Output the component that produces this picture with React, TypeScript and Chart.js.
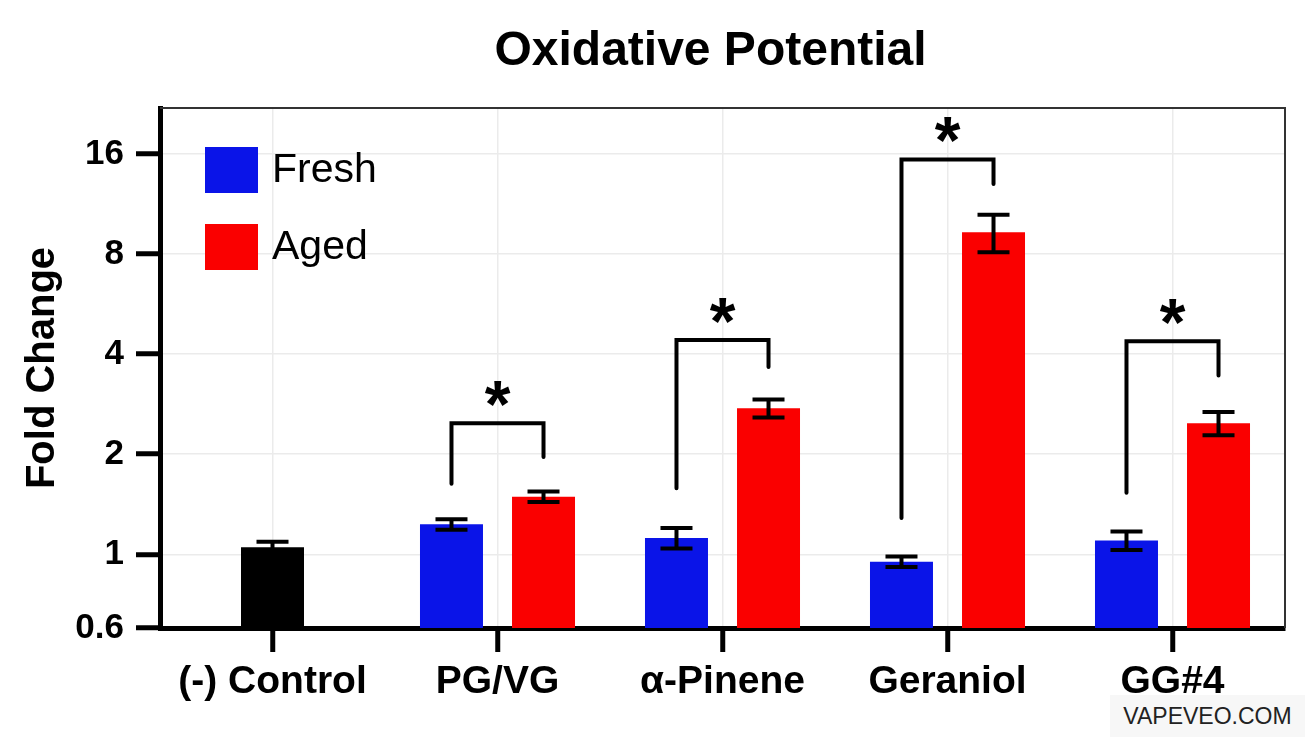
import React, { useEffect, useRef } from "react";
import { Chart, registerables } from "chart.js";

Chart.register(...registerables);

const FONT = '"Liberation Sans", Arial, Helvetica, sans-serif';

// ---- data ----
const chartTitle = "Oxidative Potential";
const categories = ["(-) Control", "PG/VG", "α-Pinene", "Geraniol", "GG#4"];
const controlValues = [1.05, null, null, null, null];
const controlErrors = [0.04, 0, 0, 0, 0];
const freshValues = [null, 1.23, 1.12, 0.95, 1.1];
const freshErrors = [0, 0.045, 0.08, 0.035, 0.07];
const agedValues = [null, 1.49, 2.75, 9.3, 2.48];
const agedErrors = [0, 0.055, 0.17, 1.2, 0.2];
const yTicks = [0.6, 1, 2, 4, 8, 16];
// significance brackets (in data units)
const bracketTop = [null, 2.48, 4.41, 15.4, 4.37];
const bracketLeftFoot = [null, 1.63, 1.58, 1.285, 1.53];
const bracketRightFoot = [null, 1.96, 3.66, 13.0, 3.45];
const bracketLabels = [null, "*", "*", "*", "*"];

const errorSets = [controlErrors, freshErrors, agedErrors];

const errorBarPlugin = {
  id: "errorBars",
  afterDatasetsDraw(chart: any) {
    const { ctx } = chart;
    const y = chart.scales.y;
    ctx.save();
    ctx.strokeStyle = "#000";
    ctx.lineWidth = 4;
    chart.data.datasets.forEach((ds: any, di: number) => {
      const meta = chart.getDatasetMeta(di);
      meta.data.forEach((bar: any, j: number) => {
        const v = ds.data[j];
        const e = errorSets[di][j];
        if (v == null || !e) return;
        const yt = y.getPixelForValue(v + e);
        const yb = y.getPixelForValue(v - e);
        const x = bar.x;
        const hw = 16;
        ctx.beginPath();
        ctx.moveTo(x, yt);
        ctx.lineTo(x, yb);
        ctx.moveTo(x - hw, yt);
        ctx.lineTo(x + hw, yt);
        ctx.moveTo(x - hw, yb);
        ctx.lineTo(x + hw, yb);
        ctx.stroke();
      });
    });
    ctx.restore();
  },
};

const bracketPlugin = {
  id: "brackets",
  afterDatasetsDraw(chart: any) {
    const { ctx } = chart;
    const y = chart.scales.y;
    const fresh = chart.getDatasetMeta(1);
    const aged = chart.getDatasetMeta(2);
    ctx.save();
    ctx.strokeStyle = "#000";
    ctx.lineWidth = 4;
    ctx.lineJoin = "miter";
    ctx.lineCap = "round";
    categories.forEach((_, c) => {
      const top = bracketTop[c];
      if (top == null) return;
      const xl = fresh.data[c].x;
      const xr = aged.data[c].x;
      const yt = y.getPixelForValue(top);
      const yl = y.getPixelForValue(bracketLeftFoot[c] as number);
      const yr = y.getPixelForValue(bracketRightFoot[c] as number);
      ctx.beginPath();
      ctx.moveTo(xl, yl);
      ctx.lineTo(xl, yt);
      ctx.lineTo(xr, yt);
      ctx.lineTo(xr, yr);
      ctx.stroke();
      const label = bracketLabels[c] as string;
      ctx.fillStyle = "#000";
      ctx.font = `bold 66px ${FONT}`;
      ctx.textAlign = "center";
      ctx.textBaseline = "alphabetic";
      const m = ctx.measureText(label);
      const cy = yt - 30;
      const base = cy + (m.actualBoundingBoxAscent - m.actualBoundingBoxDescent) / 2;
      ctx.fillText(label, (xl + xr) / 2, base);
    });
    ctx.restore();
  },
};

const framePlugin = {
  id: "frame",
  beforeDatasetsDraw(chart: any) {
    const { ctx, chartArea: a } = chart;
    ctx.save();
    ctx.strokeStyle = "#333";
    ctx.lineWidth = 2;
    ctx.beginPath();
    ctx.moveTo(a.left, a.top);
    ctx.lineTo(a.right, a.top);
    ctx.lineTo(a.right, a.bottom);
    ctx.stroke();
    ctx.restore();
  },
};

const titlePlugin = {
  id: "plotTitle",
  afterDraw(chart: any) {
    const { ctx, chartArea: a } = chart;
    ctx.save();
    ctx.fillStyle = "#000";
    ctx.font = `bold 48px ${FONT}`;
    ctx.textAlign = "center";
    ctx.textBaseline = "middle";
    ctx.fillText(chartTitle, (a.left + a.right) / 2 - 12, a.top - 56);
    ctx.restore();
  },
};

const legendPlugin = {
  id: "customLegend",
  afterDraw(chart: any) {
    const { ctx, chartArea: a } = chart;
    const items = [chart.data.datasets[1], chart.data.datasets[2]];
    ctx.save();
    items.forEach((ds: any, i: number) => {
      const bx = a.left + 45;
      const by = a.top + 39 + i * 77;
      ctx.fillStyle = ds.backgroundColor;
      ctx.fillRect(bx, by, 53, 46);
      ctx.fillStyle = "#000";
      ctx.font = `41px ${FONT}`;
      ctx.textAlign = "left";
      ctx.textBaseline = "middle";
      ctx.fillText(ds.label, bx + 67, by + 24);
    });
    ctx.restore();
  },
};

function OxidativeChart() {
  const canvasRef = useRef<HTMLCanvasElement | null>(null);

  useEffect(() => {
    if (!canvasRef.current) return;
    Chart.defaults.font.family = FONT;
    const chart = new Chart(canvasRef.current, {
      type: "bar",
      data: {
        labels: categories,
        datasets: [
          {
            label: "Control",
            data: controlValues as any,
            backgroundColor: "#000000",
          },
          {
            label: "Fresh",
            data: freshValues as any,
            backgroundColor: "#0a14e8",
          },
          {
            label: "Aged",
            data: agedValues as any,
            backgroundColor: "#fa0000",
          },
        ],
      },
      options: {
        animation: false,
        responsive: true,
        maintainAspectRatio: false,
        layout: { padding: { left: 0, right: 31, top: 108, bottom: 0 } },
        datasets: {
          bar: {
            skipNull: true,
            categoryPercentage: 0.818,
            barPercentage: 0.685,
            maxBarThickness: 63,
          } as any,
        },
        plugins: {
          legend: { display: false },
          tooltip: { enabled: false },
          title: { display: false },
        },
        scales: {
          x: {
            type: "category",
            offset: true,
            grid: {
              display: true,
              offset: false,
              color: "#ebebeb",
              lineWidth: 1.5,
              drawTicks: true,
              tickLength: 24,
              tickColor: "#000",
              tickWidth: 5,
            },
            border: { display: true, color: "#000", width: 5 },
            ticks: {
              color: "#000",
              font: { size: 39, weight: "bold", family: FONT },
              padding: 7,
              autoSkip: false,
              maxRotation: 0,
              minRotation: 0,
            },
            afterFit: (scale: any) => {
              scale.height = 111;
            },
          },
          y: {
            type: "logarithmic",
            min: 0.6,
            max: 22,
            afterBuildTicks: (scale: any) => {
              scale.ticks = yTicks.map((v) => ({ value: v }));
            },
            grid: {
              color: "#ebebeb",
              lineWidth: 1.5,
              drawTicks: true,
              tickLength: 24,
              tickColor: "#000",
              tickWidth: 5,
            },
            border: { display: true, color: "#000", width: 5 },
            ticks: {
              color: "#000",
              font: { size: 35, weight: "bold", family: FONT },
              padding: 12,
              autoSkip: false,
              callback: (v: any) => String(v),
            },
            title: {
              display: true,
              text: "Fold Change",
              color: "#000",
              font: { size: 40, weight: "bold", family: FONT },
              padding: { top: 19, bottom: 0 },
            },
            afterFit: (scale: any) => {
              scale.width = 160;
            },
          },
        },
      },
      plugins: [framePlugin, errorBarPlugin, bracketPlugin, legendPlugin, titlePlugin],
    });
    return () => chart.destroy();
  }, []);

  return (
    <div
      style={{
        position: "absolute",
        left: 0,
        top: 0,
        width: 1316,
        height: 739,
        background: "#fff",
      }}
    >
      <canvas ref={canvasRef} />
      <div
        style={{
          position: "absolute",
          left: 1110,
          top: 695,
          width: 195,
          height: 42,
          background: "#f7f7f7",
          color: "#222",
          fontFamily: FONT,
          fontSize: 23,
          lineHeight: "42px",
          textAlign: "center",
        }}
      >
        VAPEVEO.COM
      </div>
    </div>
  );
}

export default function App() {
  return <OxidativeChart />;
}
